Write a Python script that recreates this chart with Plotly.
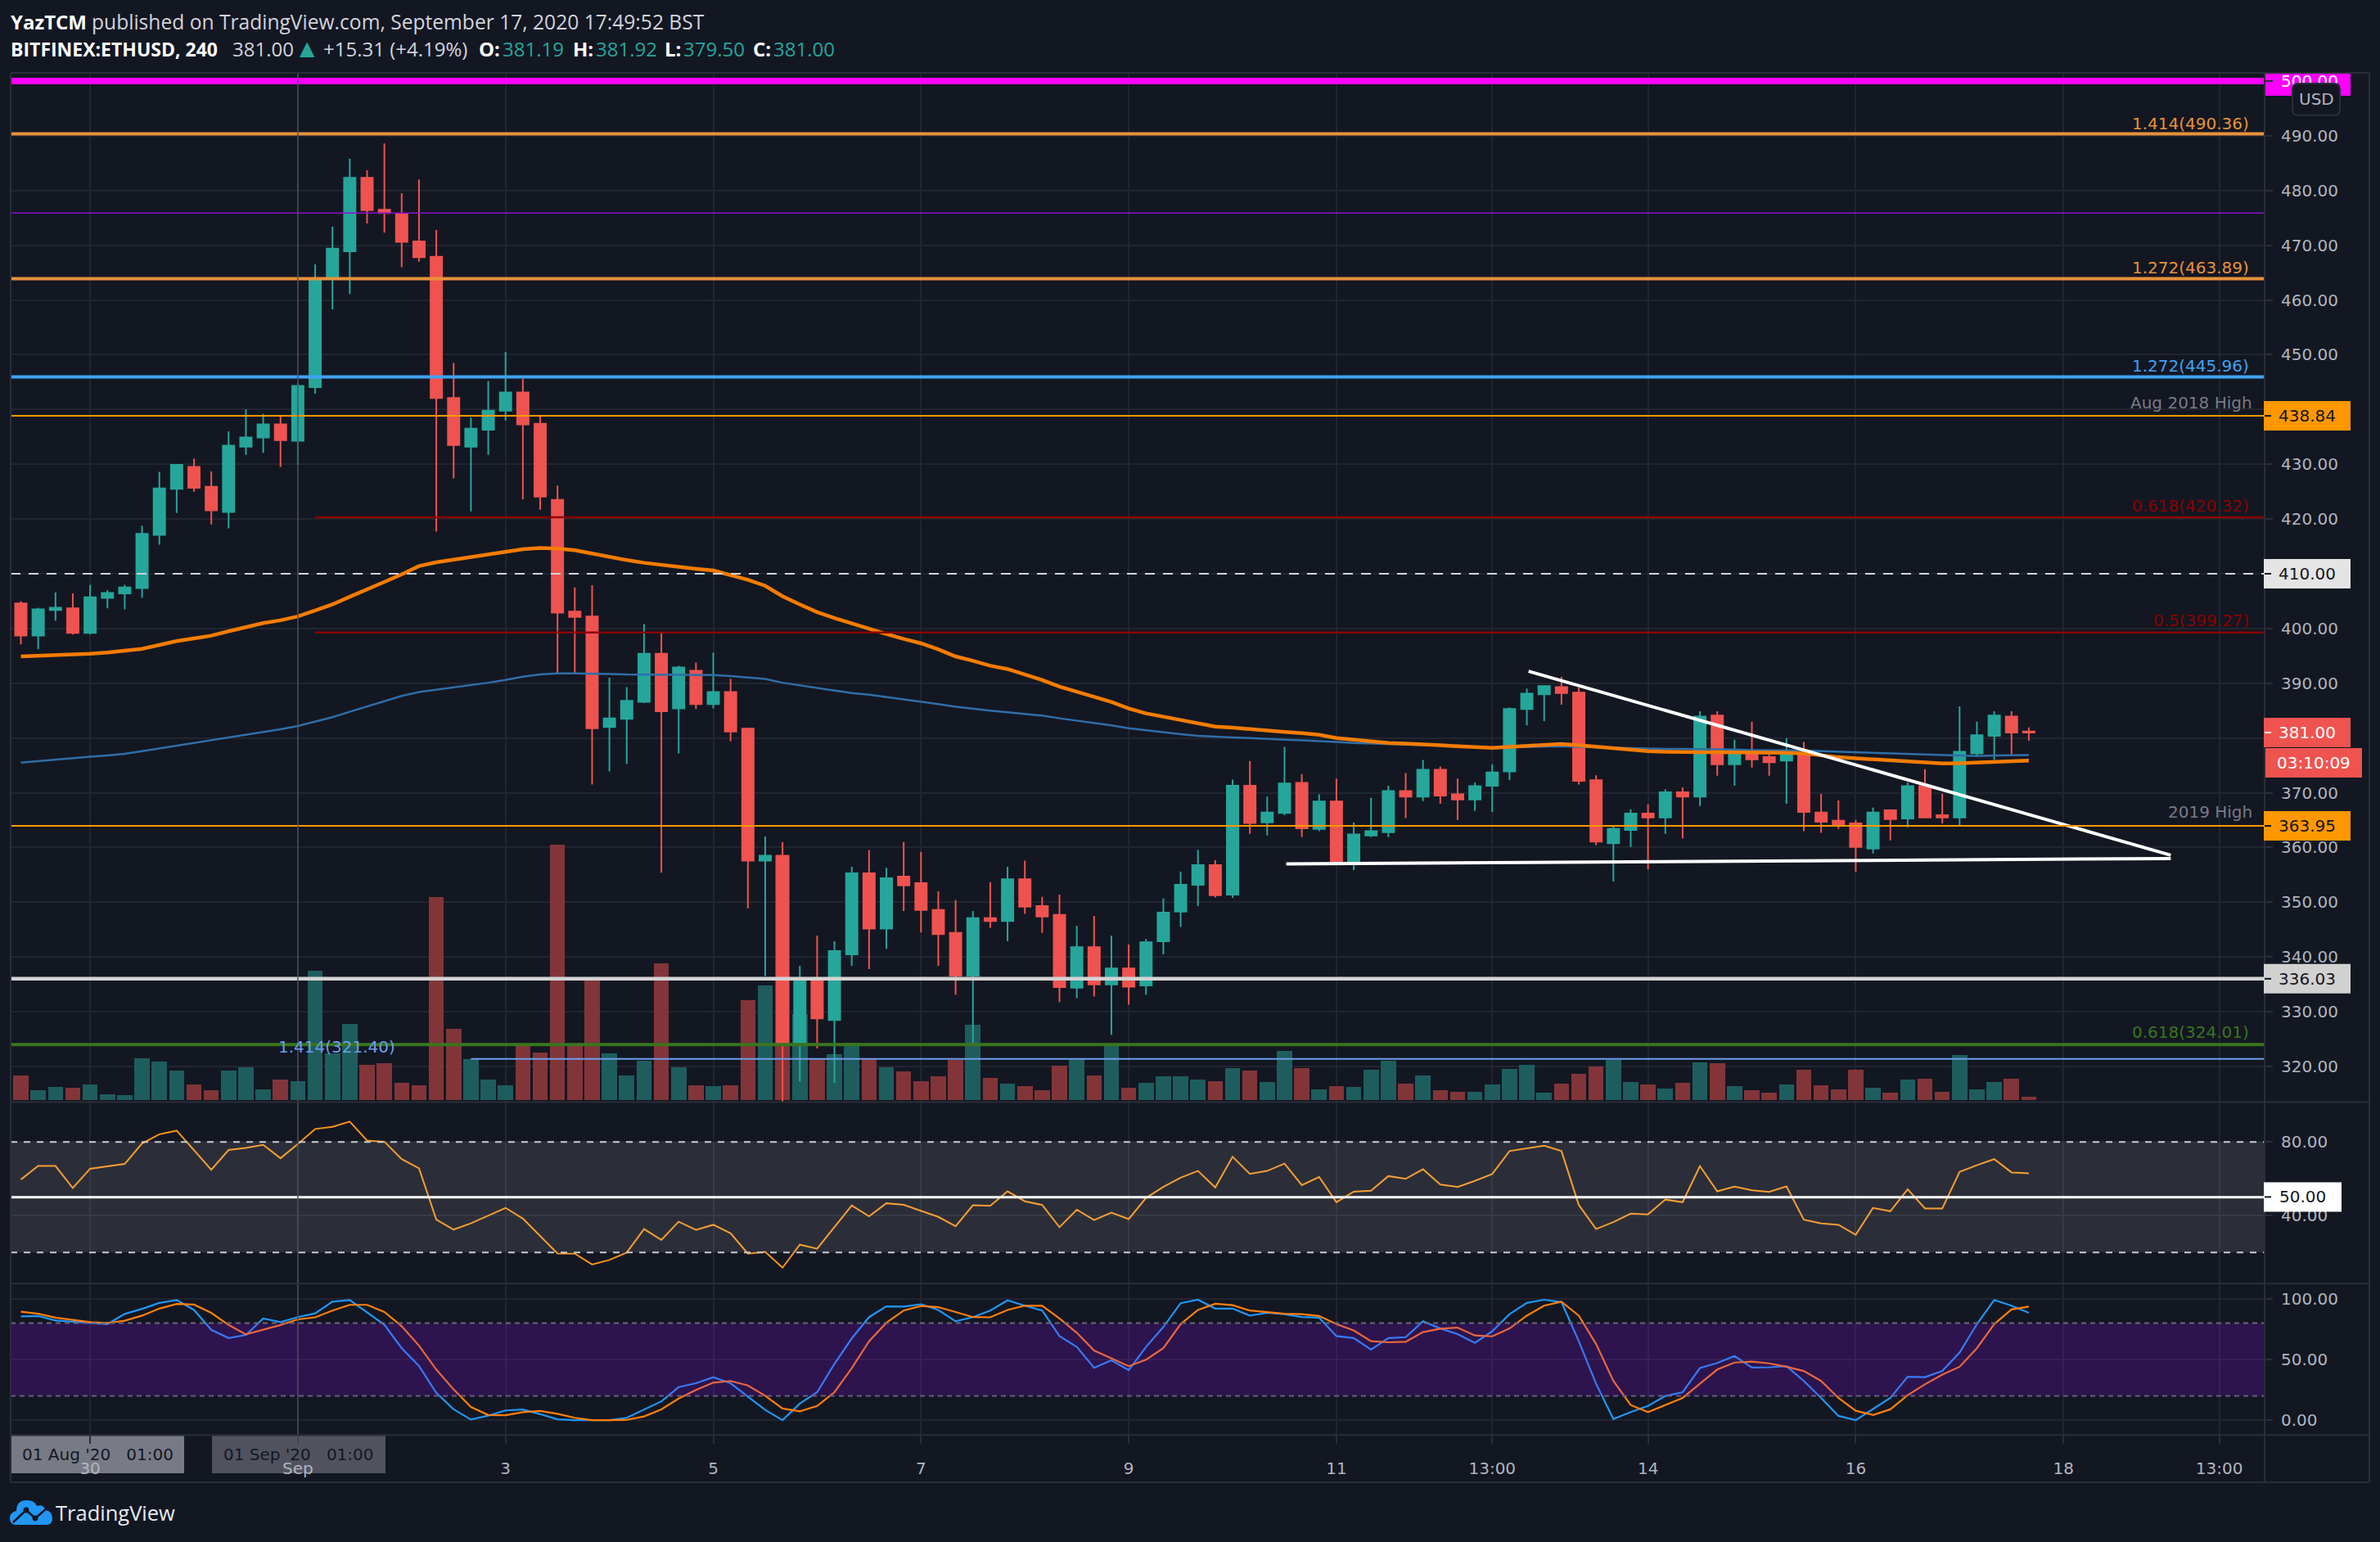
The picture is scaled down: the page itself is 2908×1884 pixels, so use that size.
import pandas as pd
import plotly.graph_objects as go

W, H = 2908, 1884
FONT = "DejaVu Sans"
HFONT = "Open Sans"
BG = "#131722"; GRID = "#21252f"; EDGE = "#2a2e39"
UP = "#26a69a"; DOWN = "#ef5350"; VUP = "#1e5d5e"; VDOWN = "#823539"
AXT = "#b2b5be"

dates = pd.date_range("2020-08-29 09:00", periods=117, freq="4h")

opens = [404.6,398.7,403.4,403.7,399.2,405.6,406.4,407.4,417.1,425.5,429.5,425.9,421.3,433.2,434.9,437.3,434.3,444.1,463.8,468.9,482.3,476.5,475.7,470.7,467.9,442.1,433.2,436.3,439.8,443.1,437.4,423.5,403.1,402.2,382.0,383.5,386.6,395.4,385.4,392.3,386.2,388.4,381.7,357.6,358.5,324.2,335.7,328.5,340.5,355.3,345.2,354.7,353.5,348.6,344.4,336.6,347.1,346.6,354.2,349.3,347.7,334.4,341.8,335.0,337.9,334.8,342.9,348.3,353.2,356.8,351.4,371.3,364.6,366.3,371.8,363.4,368.4,357.2,362.2,362.8,370.3,369.3,374.2,369.7,368.8,371.3,373.9,385.3,388.0,389.3,388.3,372.3,360.8,363.2,366.2,365.5,370.1,369.3,384.1,375.2,377.5,376.5,375.9,377.2,366.4,364.9,364.4,359.8,366.8,365.3,371.2,365.9,365.5,377.2,380.4,383.9,381.19]
highs = [405.0,403.8,406.6,406.4,408.0,407.0,408.0,418.8,428.6,429.9,431.0,428.7,436.0,440.0,439.2,438.7,444.8,466.5,473.4,485.8,483.7,488.6,479.5,482.0,472.8,448.5,438.5,445.2,450.5,445.6,438.7,426.1,407.5,407.9,391.0,389.3,400.8,399.2,393.2,393.8,395.6,390.8,381.7,362.0,361.0,338.4,343.9,342.9,356.5,359.5,356.3,361.0,359.2,352.0,350.4,348.4,353.7,356.5,357.6,351.0,351.4,345.7,347.5,343.9,342.3,343.3,350.7,355.6,359.6,357.7,372.4,375.8,369.3,378.4,373.4,369.7,372.6,364.6,369.1,371.3,373.6,376.0,374.8,372.6,371.9,375.2,385.6,389.0,389.5,391.2,389.2,373.2,363.8,367.0,367.9,370.6,371.0,384.9,384.9,379.7,383.0,377.6,380.0,379.3,369.8,368.6,365.0,367.3,367.0,371.9,374.3,369.8,385.8,383.0,384.9,384.9,381.92]
lows = [397.1,396.2,401.4,398.9,398.9,403.7,403.5,405.6,415.3,421.1,425.0,419.0,418.3,431.7,432.1,429.5,429.9,442.9,458.3,461.1,474.0,472.3,466.0,467.0,417.7,427.4,421.4,431.7,438.0,423.6,421.7,391.8,391.8,371.5,373.9,375.3,386.4,355.4,377.2,385.3,385.4,379.4,348.9,336.5,313.5,317.3,323.3,317.0,338.4,337.8,341.5,348.4,344.5,338.4,333.1,324.2,345.3,342.9,347.9,344.4,331.8,332.5,332.8,325.8,331.3,333.1,340.5,345.5,349.3,350.9,350.8,362.5,362.2,365.9,361.9,363.0,357.0,355.9,361.9,361.9,365.4,368.5,368.0,365.0,366.7,366.5,372.3,382.3,383.1,386.1,371.5,360.4,353.8,360.1,356.0,362.5,361.7,367.6,373.1,371.3,374.6,373.1,368.0,363.0,362.7,363.4,355.6,358.9,361.3,363.7,365.5,364.4,364.1,376.8,376.0,377.0,379.5]
closes = [398.7,403.5,403.8,399.2,405.7,406.5,407.5,417.3,425.6,429.9,425.7,421.6,433.4,434.9,437.3,434.4,444.3,463.7,469.4,482.3,476.4,475.9,470.6,467.8,442.1,433.5,436.5,439.8,443.1,437.3,424.1,402.9,402.1,381.8,383.6,386.8,395.4,384.9,392.9,386.2,388.4,381.2,357.6,358.5,324.2,335.6,328.8,341.1,355.3,345.2,354.4,353.1,348.6,344.2,336.6,347.1,346.6,354.2,349.2,347.4,334.5,341.8,335.0,337.9,334.6,342.7,348.1,353.2,356.8,351.3,371.3,364.5,366.4,371.7,363.5,368.4,357.4,362.4,363.0,370.3,369.3,374.2,369.5,368.8,371.2,373.7,385.3,388.1,389.5,388.2,372.2,361.1,363.4,366.2,365.5,370.1,369.3,383.9,375.2,377.5,376.1,375.6,377.5,366.5,364.7,364.2,360.1,366.4,365.2,371.2,365.5,365.5,377.5,380.5,384.1,381.0,381.0]
volume = [31,12,16,15,19,7,6,52,48,37,19,12,37,41,13,25,23,159,58,94,44,46,21,18,249,88,51,25,18,68,59,313,67,150,58,31,49,168,41,18,17,18,123,141,300,106,52,57,71,51,41,36,23,30,50,93,28,20,17,12,43,52,31,67,15,21,30,30,25,23,40,37,22,61,40,13,17,16,38,49,20,31,12,10,10,19,39,44,9,20,33,42,50,22,19,14,21,47,46,17,12,9,19,38,18,13,38,15,9,25,26,10,56,13,22,26,4]
ema_orange = [394.9,395.0,395.1,395.2,395.4,395.6,395.9,396.3,397.0,397.7,398.2,398.7,399.5,400.3,401.0,401.5,402.2,403.3,404.4,405.8,407.1,408.5,409.9,411.4,412.1,412.6,413.0,413.5,414.0,414.5,414.7,414.6,414.3,413.7,413.0,412.5,412.0,411.6,411.2,410.9,410.6,409.7,408.9,407.8,405.9,404.4,403.0,401.9,400.9,399.9,399.0,398.1,397.3,396.2,394.9,394.1,393.2,392.6,391.6,390.6,389.4,388.5,387.6,386.6,385.4,384.5,383.9,383.3,382.8,382.1,381.9,381.6,381.3,381.1,380.9,380.6,380.0,379.7,379.3,379.1,379.0,378.9,378.7,378.5,378.3,378.2,378.4,378.6,378.8,378.9,378.7,378.4,378.1,377.8,377.6,377.5,377.4,377.4,377.4,377.4,377.4,377.3,377.3,377.2,376.8,376.5,376.3,376.1,375.9,375.7,375.6,375.35,375.4,375.5,375.7,375.8,375.9]
ema_blue = [375.5,375.8,376.0,376.3,376.6,376.8,377.1,377.6,378.1,378.6,379.0,379.5,380.0,380.5,381.1,381.6,382.2,383.0,383.8,384.8,385.8,386.8,387.7,388.4,388.8,389.2,389.6,390.1,390.6,391.2,391.6,391.8,391.8,391.8,391.7,391.6,391.6,391.6,391.6,391.5,391.5,391.3,391.1,390.8,390.1,389.6,389.1,388.6,388.2,387.9,387.5,387.1,386.7,386.2,385.7,385.3,385.0,384.7,384.4,384.1,383.6,383.2,382.8,382.3,381.8,381.4,381.0,380.7,380.4,380.2,380.1,380.0,379.8,379.7,379.6,379.5,379.3,379.1,379.0,378.8,378.7,378.7,378.6,378.6,378.4,378.2,378.3,378.4,378.5,378.5,378.4,378.3,378.2,378.1,378.0,378.0,378.0,378.0,377.9,377.9,377.8,377.8,377.8,377.7,377.6,377.5,377.3,377.2,377.1,377.0,376.9,376.8,376.7,376.7,376.8,376.9,376.9]
rsi = [59.6,67,67,55,65.5,66.7,68.1,79.2,84.2,86.2,75.5,64.9,75.7,76.8,78.5,71.2,78.9,87.1,88.3,91.1,80.8,80.2,70.7,65.7,37.8,32.4,35.8,40.1,44.2,38.4,28.8,19.4,19.3,13.4,15.9,19.9,32.7,26.8,36.7,32.2,35,30.4,19.3,20.3,11.7,24.2,22.0,34,45.5,39.6,46.7,45.9,42.7,39.3,34.2,45.6,45.3,53.2,47.8,45.8,33.7,43.2,37.6,41.6,38.1,49.6,55.6,60.6,64.3,55.3,72,62.7,64.3,68.3,56.6,61,47.3,53,53.5,61.5,60,65.2,56.9,55.6,58.9,62.6,75.1,76.6,78,75.1,45.8,32.7,36.5,41.1,40.7,48.7,47.3,66.9,53.2,55.8,53.8,52.9,55.9,37.8,35.8,35,29.6,44.2,42.4,54.3,43.9,43.9,63.8,67.4,70.7,63.5,63]
stoch_k = [85.5,85.9,82.2,81,80.1,79.2,87.6,91.8,96.7,99.1,90.9,74.5,67.7,70.3,83.8,80.8,85,88.1,97.7,99.1,89.2,78.7,59.3,44.7,22.5,8.9,0.5,3.7,8,8.7,4.9,0.7,0,0,0,1.9,8.9,15.5,27.2,30.4,35.4,30.4,19.4,8.4,0,13.6,23,46.4,67.4,85,93.9,93.7,95.6,90.9,81.5,85,90.4,98.8,94.4,90.4,69.3,60.4,43.1,49.4,41.2,60.4,76.8,96.5,99.3,92,92,86.2,88.5,87.4,85,84.5,69.3,67.7,58.1,67.7,68.4,81.5,75.6,71,63.7,73.3,87.4,96.7,99.3,97.4,65.1,30,0.9,6.6,11.7,19.9,23,42.9,47.1,52.9,43.3,43.6,44.5,32.3,18.3,3.5,0,8.9,18.3,35.8,35.4,40.5,55.7,79.2,99.1,94.4,88.5]
stoch_d = [89.5,87.8,84.5,82.9,80.8,80.1,82,86.2,92,95.8,95.3,88.5,78.5,70.7,74.5,78.5,83.1,84.8,90.4,95.1,95.1,89.2,77.5,61.4,41.7,25.3,10.8,4.2,4,6.6,7.5,5.2,1.9,0,0,0.2,3,8.9,17.8,24.8,30.9,32.3,28.6,20.1,9.6,7.3,11.7,23,42.9,65.1,80.3,90.4,94.1,93.2,89.2,85,84.8,90.9,94.4,94.4,83.8,72.1,57.4,51.1,44.5,49.9,59.3,79.2,90.9,96,94.8,90.4,89.2,87.8,87.4,85.9,79.2,74,65.1,64.2,64.6,72.6,75.4,76.3,69.8,69.1,75.6,86.2,94.4,97.7,86.2,62.8,32.3,12.4,6.6,12.4,18.3,30,41.7,47.5,48.2,46.8,44,40.5,32.3,18.3,7.7,4.2,8.9,20.6,29.5,37.5,44,59.3,79.2,91.3,93.7]
for arr in (opens, highs, lows, closes, volume, ema_orange, ema_blue, rsi, stoch_k, stoch_d):
    assert len(arr) == 117, len(arr)

price_ticks = [320,330,340,350,360,370,380,390,400,410,420,430,440,450,460,470,480,490]
x_tick_dates = ["2020-08-30 01:00","2020-09-01 01:00","2020-09-03 01:00","2020-09-05 01:00","2020-09-07 01:00","2020-09-09 01:00","2020-09-11 01:00","2020-09-12 13:00","2020-09-14 01:00","2020-09-16 01:00","2020-09-18 01:00","2020-09-19 13:00"]
x_tick_text = ["30","Sep","3","5","7","9","11","13:00","14","16","18","13:00"]
x_range = ["2020-08-29 06:38","2020-09-19 23:29"]

# level value, colour, width, dash, first date
levels = [
    (490.36,"#e8923a",4,"solid",None),(475.9,"#8a10cc",1.5,"solid",None),(463.89,"#e8923a",4,"solid",None),
    (445.96,"#3fa3f5",4,"solid",None),(438.84,"#ff9800",2,"solid",None),
    (420.32,"#8b0000",2.5,"solid","2020-09-01 05:00"),(410,"#d1d4dc",2,"12px,10px",None),
    (399.27,"#8b0000",2.5,"solid","2020-09-01 05:00"),(363.95,"#ff9800",2,"solid",None),
    (336.03,"#d3d3d3",4.5,"solid",None),(324.01,"#38761d",4,"solid",None),
    (321.40,"#6d9eeb",2,"solid","2020-09-02 17:00"),
]
level_labels = [
    (490.36,"1.414(490.36)","#e8923a",2748,149),(463.89,"1.272(463.89)","#e8923a",2748,325),
    (445.96,"1.272(445.96)","#3fa3f5",2748,445),(438.84,"Aug 2018 High","#787b86",2752,491),
    (420.32,"0.618(420.32)","#8b0000",2748,617),(399.27,"0.5(399.27)","#8b0000",2748,757),
    (363.95,"2019 High","#787b86",2752,991),(324.01,"0.618(324.01)","#38761d",2748,1260),
]
price_boxes = [(438.84,"438.84","#ff9800","#131722"),(410.00,"410.00","#e4e4e4","#131722"),
               (381.00,"381.00","#ef5350","#ffffff"),(363.95,"363.95","#ff9800","#131722"),
               (336.03,"336.03","#d1d1d1","#131722")]
trend_x = [["2020-09-12 21:24","2020-09-19 01:48"],["2020-09-10 13:24","2020-09-19 01:48"]]
trend_y = [[392.2,358.6],[357.0,358.0]]

def px(x): return x / W
def py(y): return 1 - y / H

fig = go.Figure()
fig.add_bar(x=dates, y=volume, width=0.88*4*3600*1000, yaxis="y", xaxis="x",
            marker=dict(color=[VUP if c >= o else VDOWN for o, c in zip(opens, closes)], line_width=0),
            showlegend=False, hoverinfo="skip")
fig.add_candlestick(x=dates, open=opens, high=highs, low=lows, close=closes, xaxis="x", yaxis="y2",
                    increasing=dict(line=dict(color=UP, width=2), fillcolor=UP),
                    decreasing=dict(line=dict(color=DOWN, width=2), fillcolor=DOWN),
                    whiskerwidth=0, showlegend=False)
fig.add_scatter(x=dates, y=ema_blue, mode="lines", line=dict(color="#2f6ea8", width=2.5), yaxis="y2", xaxis="x", showlegend=False)
fig.add_scatter(x=dates, y=ema_orange, mode="lines", line=dict(color="#f57c00", width=4.5), yaxis="y2", xaxis="x", showlegend=False)
for tx, ty in zip(trend_x, trend_y):
    fig.add_scatter(x=tx, y=ty, mode="lines", line=dict(color="#ffffff", width=4), yaxis="y2", xaxis="x", showlegend=False)
fig.add_scatter(x=dates, y=rsi, mode="lines", line=dict(color="#f7931e", width=2), yaxis="y3", xaxis="x2", showlegend=False)
fig.add_scatter(x=dates, y=stoch_k, mode="lines", line=dict(color="#2196f3", width=2.2), yaxis="y4", xaxis="x3", showlegend=False)
fig.add_scatter(x=dates, y=stoch_d, mode="lines", line=dict(color="#ff7f0e", width=2.2), yaxis="y4", xaxis="x3", showlegend=False)

shapes = []
X0, X1 = 13, 2767
def pline(x0, y0, x1, y1, color=EDGE, width=2, dash="solid", layer="above"):
    shapes.append(dict(type="line", xref="paper", yref="paper", x0=px(x0), x1=px(x1), y0=py(y0), y1=py(y1),
                       line=dict(color=color, width=width, dash=dash), layer=layer))
def prect(x0, y0, x1, y1, fill, layer="above"):
    shapes.append(dict(type="rect", xref="paper", yref="paper", x0=px(x0), x1=px(x1), y0=py(y0), y1=py(y1),
                       fillcolor=fill, line_width=0, layer=layer))

# levels
for v, c, w, d, start in levels:
    shapes.append(dict(type="line", xref="x", yref="y2", x0=start or x_range[0], x1=x_range[1], y0=v, y1=v,
                       line=dict(color=c, width=w, dash=d), layer="above"))
shapes.append(dict(type="line", xref="x", yref="y2", x0=x_range[0], x1=x_range[1], y0=500, y1=500,
                   line=dict(color="#ff00ff", width=8), layer="above"))
# oscillator bands
shapes += [
    dict(type="rect", xref="x2", yref="y3", x0=x_range[0], x1=x_range[1], y0=20, y1=80, fillcolor="rgba(255,255,255,0.10)", line_width=0, layer="above"),
    dict(type="line", xref="x2", yref="y3", x0=x_range[0], x1=x_range[1], y0=80, y1=80, line=dict(color="#c9cbd0", width=2, dash="8px,8px"), layer="above"),
    dict(type="line", xref="x2", yref="y3", x0=x_range[0], x1=x_range[1], y0=20, y1=20, line=dict(color="#c9cbd0", width=2, dash="8px,8px"), layer="above"),
    dict(type="line", xref="x2", yref="y3", x0=x_range[0], x1=x_range[1], y0=50, y1=50, line=dict(color="#ffffff", width=3), layer="above"),
    dict(type="rect", xref="x3", yref="y4", x0=x_range[0], x1=x_range[1], y0=20, y1=80, fillcolor="rgba(152,10,255,0.20)", line_width=0, layer="above"),
    dict(type="line", xref="x3", yref="y4", x0=x_range[0], x1=x_range[1], y0=80, y1=80, line=dict(color="#6a6a72", width=2, dash="6px,5px"), layer="above"),
    dict(type="line", xref="x3", yref="y4", x0=x_range[0], x1=x_range[1], y0=20, y1=20, line=dict(color="#6a5c80", width=2, dash="6px,5px"), layer="above"),
]
# crosshair line at 1 Sep
shapes.append(dict(type="line", xref="x3", yref="paper", x0="2020-09-01 01:00", x1="2020-09-01 01:00",
                   y0=py(1765), y1=py(87), line=dict(color="#4c505b", width=1.5), layer="above"))
# frame
pline(13, 87, 2895, 87); pline(13, 1811, 2895, 1811); pline(13, 87, 13, 1811); pline(2895, 87, 2895, 1811)
pline(13, 1346, 2895, 1346); pline(13, 1568, 2895, 1568); pline(13, 1753, 2895, 1753); pline(2767, 87, 2767, 1811)
# magenta 500 tag sits below the axis text
prect(2767, 87, 2872, 115, "#ff00ff", layer="below")
pline(2767, 97, 2775, 97, "#ffffff", 2, layer="below")
# axis price tags
for v, t, bg, fg in price_boxes:
    shapes.append(dict(type="rect", xref="paper", yref="y2", ysizemode="pixel", yanchor=v, y0=-18, y1=18,
                       x0=px(2766), x1=px(2872), fillcolor=bg, line_width=0, layer="above"))
    shapes.append(dict(type="line", xref="paper", yref="y2", x0=px(2767), x1=px(2775), y0=v, y1=v,
                       line=dict(color=fg, width=2), layer="above"))
prect(2768, 913, 2886, 949, "#ef5350")
prect(2766, 1444, 2861, 1480, "#ffffff")
pline(2767, 1462, 2775, 1462, "#131722", 2)
# date tags behind the time axis labels
prect(14, 1754, 225, 1800, "#787b86", layer="below")
prect(259, 1754, 471, 1800, "#50535e", layer="below")
# USD badge
def rr(x0, y0, x1, y1, r):
    return (f"M {px(x0+r)} {py(y0)} L {px(x1-r)} {py(y0)} Q {px(x1)} {py(y0)} {px(x1)} {py(y0+r)} "
            f"L {px(x1)} {py(y1-r)} Q {px(x1)} {py(y1)} {px(x1-r)} {py(y1)} L {px(x0+r)} {py(y1)} "
            f"Q {px(x0)} {py(y1)} {px(x0)} {py(y1-r)} L {px(x0)} {py(y0+r)} Q {px(x0)} {py(y0)} {px(x0+r)} {py(y0)} Z")
shapes.append(dict(type="path", xref="paper", yref="paper", path=rr(2801, 100, 2859, 139, 7),
                   fillcolor=BG, line=dict(color=EDGE, width=2), layer="above"))
# TradingView logo: cloud, then its line and nodes
def P(a, b): return f"{px(a)} {py(b)}"
cloud = (f"M {P(18,1863)} Q {P(12,1862)} {P(12,1855)} Q {P(12,1848)} {P(20,1846)} Q {P(20,1833)} {P(33,1833)} "
         f"Q {P(42,1833)} {P(45,1840)} Q {P(52,1837)} {P(56,1845)} Q {P(64,1847)} {P(64,1855)} Q {P(64,1863)} {P(57,1863)} Z")
shapes.append(dict(type="path", xref="paper", yref="paper", path=cloud, fillcolor="#2196f3", line_width=0, layer="above"))
logo_n = [(16,1860),(32,1845),(43,1855),(57,1843)]
shapes.append(dict(type="path", xref="paper", yref="paper", path="M " + " L ".join(P(a, b) for a, b in logo_n),
                   line=dict(color="#131722", width=2.5), layer="above"))
for a, b in logo_n[1:3]:
    shapes.append(dict(type="circle", xref="paper", yref="paper", x0=px(a-3.5), x1=px(a+3.5), y0=py(b+3.5), y1=py(b-3.5),
                       fillcolor="#131722", line_width=0, layer="above"))

ann = []
def txt(x, y, t, color, size=20, xa="left", ya="middle", yref="paper", family=FONT):
    ann.append(dict(x=px(x), y=py(y) if yref == "paper" else y, xref="paper", yref=yref, text=t, showarrow=False,
                    xanchor=xa, yanchor=ya, font=dict(family=family, size=size, color=color), borderpad=0, borderwidth=0))

for v, t, c, xr, yp in level_labels:
    txt(xr, yp, t, c, 20, xa="right")
txt(483, 1278, "1.414(321.40)", "#6d9eeb", 20, xa="right")
for v, t, bg, fg in price_boxes:
    txt(2819, v, t, fg, 20, xa="center", yref="y2")
txt(2827, 931, "03:10:09", "#ffffff", 20, xa="center")
txt(2813, 1462, "50.00", "#131722", 20, xa="center")
txt(2830, 119.5, "USD", AXT, 20, xa="center")
txt(119, 1777, "01 Aug '20&nbsp;&nbsp;&nbsp;01:00", "#131722", 20, xa="center")
txt(365, 1777, "01 Sep '20&nbsp;&nbsp;&nbsp;01:00", "#131722", 20, xa="center")
txt(68, 1848, "TradingView", "#e8eaf0", 25.5, family=HFONT)

G = "#d1d4dc"
HS = 24
txt(13, 24.5, "<b>YazTCM</b>", "#ffffff", HS, family=HFONT)
txt(112, 24.5, "published on TradingView.com, September 17, 2020 17:49:52 BST", G, 24.6, family=HFONT)
txt(13, 58, "<b>BITFINEX:ETHUSD, 240</b>", "#ffffff", 23, family=HFONT)
txt(284, 58, "381.00", G, HS, family=HFONT)
txt(366, 57, "▲", UP, 24)
txt(395, 58, "+15.31 (+4.19%)", G, HS, family=HFONT)
for xl, lab, xv, val in [(585,"O:",614,"381.19"),(700,"H:",728,"381.92"),(812,"L:",835,"379.50"),(920,"C:",945,"381.00")]:
    txt(xl, 58, f"<b>{lab}</b>", "#ffffff", HS, family=HFONT)
    txt(xv, 58, val, UP, HS, family=HFONT)

tickfont = dict(family=FONT, size=20, color=AXT)
xcommon = dict(type="date", range=x_range, tickvals=x_tick_dates, showgrid=True, gridcolor=GRID, gridwidth=2,
               zeroline=False, showline=False)
def dom(top, bot): return [1 - bot / H, 1 - top / H]
ycommon = dict(side="right", showgrid=True, gridcolor=GRID, gridwidth=2, zeroline=False, showline=False,
               ticks="outside", ticklen=9, tickcolor=EDGE, tickwidth=2, tickfont=tickfont, tickformat=".2f",
               ticklabelstandoff=6)
fig.update_layout(
    width=W, height=H, margin=dict(l=0, r=0, t=0, b=0), paper_bgcolor=BG, plot_bgcolor=BG,
    showlegend=False, bargap=0, boxgap=0.34, boxgroupgap=0, hovermode=False,
    xaxis=dict(xcommon, domain=[px(X0), px(X1)], anchor="y", showticklabels=False, ticks="", rangeslider=dict(visible=False)),
    xaxis2=dict(xcommon, domain=[px(X0), px(X1)], anchor="y3", showticklabels=False, ticks=""),
    xaxis3=dict(xcommon, domain=[px(X0), px(X1)], anchor="y4", ticktext=x_tick_text, ticks="outside", ticklen=10,
                tickcolor=EDGE, tickwidth=2, tickfont=tickfont, ticklabelstandoff=13),
    yaxis=dict(domain=dom(87, 1346), range=[-2.2, 1256.8], visible=False, side="left", anchor="x"),
    yaxis2=dict(ycommon, overlaying="y", range=[313.5, 501.5], anchor="x",
                tickvals=price_ticks + [500],
                ticktext=[f"{t:.2f}" for t in price_ticks] + ['<span style="color:#ffffff">500.00</span>']),
    yaxis3=dict(ycommon, domain=dom(1346, 1568), range=[3.0, 101.7], anchor="x2", tickvals=[40, 80]),
    yaxis4=dict(ycommon, domain=dom(1568, 1753), range=[-12.2, 112.6], anchor="x3", tickvals=[0, 50, 100]),
    shapes=shapes, annotations=ann,
)
fig.write_html("out.html", config=dict(displayModeBar=False),
               post_script="document.body.style.margin='0';document.documentElement.style.background='#131722';document.documentElement.style.overflow='hidden';")
